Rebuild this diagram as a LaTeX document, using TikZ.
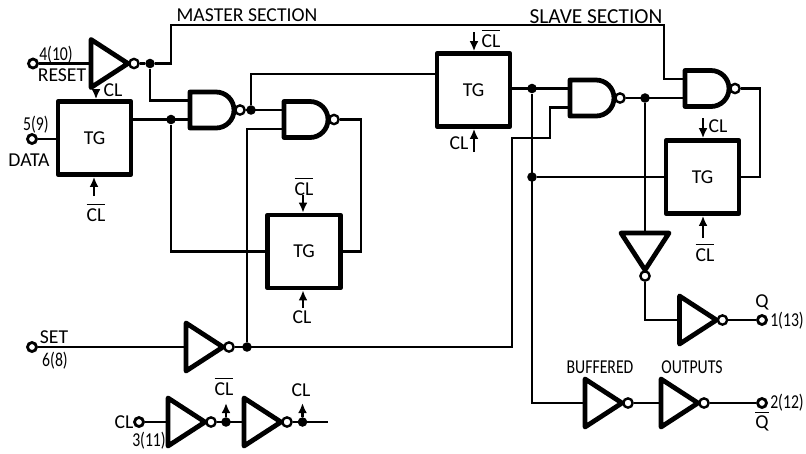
\documentclass[tikz,border=0pt]{standalone}
\usepackage{fontspec}
\setmainfont{Carlito}
\newfontfamily\numfont[FakeStretch=0.8]{Carlito}
\usepackage{tikz}
\usetikzlibrary{arrows.meta}
\newcommand{\clbar}{$\overline{\mbox{CL}}$}
\tikzset{
  wire/.style={line width=0.75pt},
  clk/.style={line width=0.9pt, -{Latex[length=3.6pt,width=3.2pt]}},
  tgbox/.style={draw, line width=1.7pt, line join=round, minimum width=0.91cm, minimum height=0.91cm, inner sep=0pt, font=\fontsize{7}{8}\selectfont},
  gateline/.style={line width=1.7pt, line join=round},
  bub/.style={circle, draw, fill=white, line width=0.85pt, minimum size=3.3pt, inner sep=0pt},
  term/.style={circle, draw, fill=white, line width=1pt, minimum size=3.2pt, inner sep=0pt},
  junct/.style={circle, fill=black, minimum size=3.4pt, inner sep=0pt},
  txt/.style={inner sep=0pt, font=\fontsize{7}{8}\selectfont},
  numtxt/.style={inner sep=0pt, font=\numfont\fontsize{7}{8}\selectfont},
  nandg/.pic={
    \draw [gateline] (0,-18) -- (26,-18) arc [start angle=-90, end angle=90, radius=18] -- (0,18) -- cycle;
    \coordinate (-in1) at (0,-9.5);
    \coordinate (-in2) at (0,9.5);
    \node [bub] (-out) at (50,0) {};
  },
  invg/.pic={
    \draw [gateline] (0,-24) -- (37,0) -- (0,24) -- cycle;
    \coordinate (-in) at (0,0);
    \node [bub] (-out) at (43,0) {};
  }
}
\begin{document}
\begin{tikzpicture}[x=0.0125cm, y=-0.0125cm]
      \useasboundingbox (0,0) rectangle (806,453);

      % transmission gates
      \node [tgbox] (tgA) at (94.5,138) {TG};
      \node [tgbox] (tgB) at (304,251.5) {TG};
      \node [tgbox] (tgC) at (473.5,90) {TG};
      \node [tgbox] (tgD) at (702.5,177) {TG};

      % nand gates
      \pic (nA) at (190,110) {nandg};
      \pic (nB) at (284,119.5) {nandg};
      \pic (nC) at (570,98) {nandg};
      \pic (nD) at (685,88.5) {nandg};

      % inverters
      \pic (invR) at (91,63.5) {invg};
      \pic (invS) at (186,347) {invg};
      \pic (invK) at (168,422) {invg};
      \pic (invL) at (244,422) {invg};
      \pic [rotate=-90] (invV) at (645,233) {invg};
      \pic (invQ) at (679.5,320) {invg};
      \pic (invP) at (585,403) {invg};
      \pic (invO) at (661,403) {invg};

      % terminals
      \node [term] (tR) at (33,63.5) {};
      \node [term] (tD) at (32,139) {};
      \node [term] (tS) at (32,347) {};
      \node [term] (tC) at (139,422) {};
      \node [term] (tQ) at (762,320) {};
      \node [term] (tO) at (762,403) {};

      % junctions
      \node [junct] (jR) at (150,63.5) {};
      \node [junct] (jA) at (171,119.5) {};
      \node [junct] (jB) at (251,110) {};
      \node [junct] (jS) at (247,347) {};
      \node [junct] (jC) at (532,88.5) {};
      \node [junct] (jD) at (532,177) {};
      \node [junct] (jE) at (645,98) {};
      \node [junct] (jK) at (226,422) {};
      \node [junct] (jL) at (302.5,422) {};

      % bends
      \coordinate (rA) at (171,25);
      \coordinate (rB) at (664,25);
      \coordinate (rC) at (361,119.5);
      \coordinate (rD) at (251,74);
      \coordinate (rE) at (512,347);
      \coordinate (rF) at (550,138);
      \coordinate (rG) at (532,403);
      \coordinate (rH) at (760,88.5);
      \coordinate (rK) at (328,422);

      % wires
      \draw [wire] (tR) -- (invR-in);
      \draw [wire] (invR-out) -- (jR);
      \draw [wire] (jR) -| (rA) -- (rB) |- (nD-in1);
      \draw [wire] (jR) |- (nA-in1);
      \draw [wire] (nA-in2) -- (nA-in2 -| tgA.east);
      \draw [wire] (tD) -- (tD -| tgA.west);
      \draw [wire] (jA) |- (tgB.west);
      \draw [wire] (nA-out) -- (nB-in1);
      \draw [wire] (jB) -- (rD) -- (rD -| tgC.west);
      \draw [wire] (nB-in2) -| (jS);
      \draw [wire] (nB-out) -- (rC) |- (tgB.east);
      \draw [wire] (tS) -- (invS-in);
      \draw [wire] (invS-out) -- (rE) |- (rF) |- (nC-in2);
      \draw [wire] (nC-in1 -| tgC.east) -- (nC-in1);
      \draw [wire] (jC) -- (rG) -- (invP-in);
      \draw [wire] (jD) -- (tgD.west);
      \draw [wire] (tgD.east) -| (rH) -- (nD-out);
      \draw [wire] (nC-out) -- (nD-in2);
      \draw [wire] (jE) -- (invV-in);
      \draw [wire] (invV-out) |- (invQ-in);
      \draw [wire] (invQ-out) -- (tQ);
      \draw [wire] (invP-out) -- (invO-in);
      \draw [wire] (invO-out) -- (tO);
      \draw [wire] (tC) -- (invK-in);
      \draw [wire] (invK-out) -- (invL-in);
      \draw [wire] (invL-out) -- (rK);

      % clock inputs
      \coordinate (cA) at (96,89);
      \coordinate (cB) at (94,196);
      \coordinate (cC) at (303,195);
      \coordinate (cD) at (303,308);
      \coordinate (cE) at (474,32);
      \coordinate (cF) at (474,152);
      \coordinate (cG) at (703,118);
      \coordinate (cH) at (703,238);
      \coordinate (cK) at (226,403);
      \coordinate (cL) at (302.5,403);
      \draw [clk] (cA) -- (tgA.north -| cA);
      \draw [clk] (cB) -- (tgA.south -| cB);
      \draw [clk] (cC) -- (tgB.north -| cC);
      \draw [clk] (cD) -- (tgB.south -| cD);
      \draw [clk] (cE) -- (tgC.north -| cE);
      \draw [clk] (cF) -- (tgC.south -| cF);
      \draw [clk] (cG) -- (tgD.north -| cG);
      \draw [clk] (cH) -- (tgD.south -| cH);
      \draw [clk] (jK) -- (cK);
      \draw [clk] (jL) -- (cL);

      % labels
      \node [txt] (lMaster) at (247,15) {MASTER SECTION};
      \node [txt, font=\fontsize{7.6}{8}\selectfont] (lSlave) at (596,17) {SLAVE SECTION};
      \node [txt] (lReset) at (62,75) {RESET};
      \node [numtxt] (lResetPin) at (56,55) {4(10)};
      \node [numtxt] (lDataPin) at (36,125) {5(9)};
      \node [txt] (lData) at (29,160) {DATA};
      \node [txt] (lSet) at (54,337) {SET};
      \node [numtxt] (lSetPin) at (55,361) {6(8)};
      \node [txt] (lClA) at (113,90) {CL};
      \node [txt] (lClB) at (96,212) {\clbar};
      \node [txt] (lClC) at (304,186) {\clbar};
      \node [txt] (lClD) at (302,317) {CL};
      \node [txt] (lClE) at (491,38) {\clbar};
      \node [txt] (lClF) at (459,143) {CL};
      \node [txt] (lClG) at (718,126) {CL};
      \node [txt] (lClH) at (705,252) {\clbar};
      \node [txt] (lClK) at (224,386) {\clbar};
      \node [txt] (lClL) at (301,390) {CL};
      \node [txt] (lClIn) at (124,422) {CL};
      \node [numtxt] (lClPin) at (149,441) {3(11)};
      \node [txt] (lQ) at (762,302) {Q};
      \node [numtxt] (lQPin) at (787,321) {1(13)};
      \node [txt] (lQb) at (762,421) {$\overline{\mbox{Q}}$};
      \node [numtxt] (lQbPin) at (787,403) {2(12)};
      \node [numtxt] (lBuf) at (600,367) {BUFFERED};
      \node [numtxt] (lOut) at (692,367) {OUTPUTS};
\end{tikzpicture}
\end{document}
